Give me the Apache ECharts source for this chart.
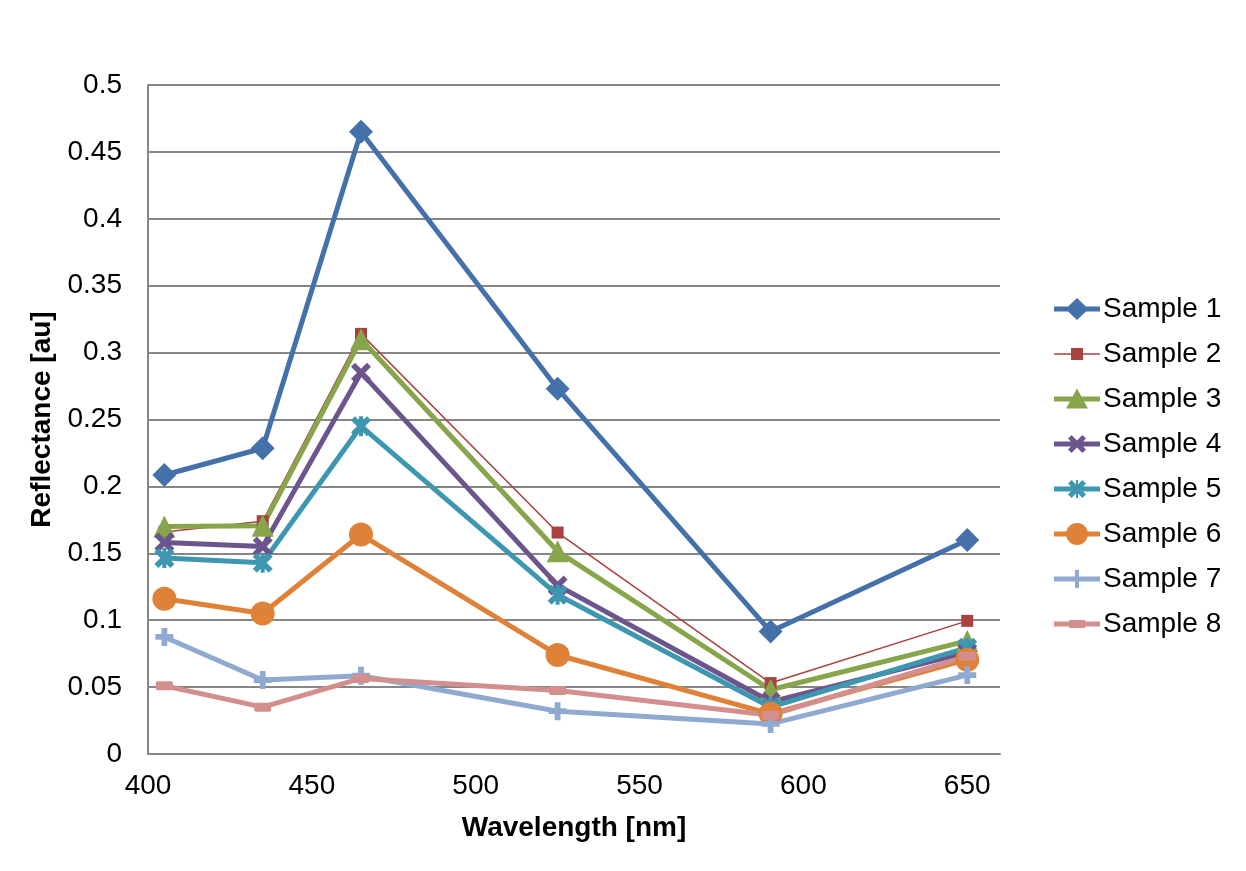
<!DOCTYPE html>
<html>
<head>
<meta charset="utf-8">
<script src="https://cdn.jsdelivr.net/npm/echarts@6/dist/echarts.min.js"></script>
<style>html,body{margin:0;padding:0;background:#fff}#c{width:1246px;height:871px}</style>
</head>
<body>
<div id="c"></div>
<script>
const wavelengths = [405, 435, 465, 525, 590, 650];
const sample1 = [0.2085, 0.2285, 0.465, 0.273, 0.0915, 0.160];
const sample2 = [0.166, 0.174, 0.314, 0.1655, 0.053, 0.0995];
const sample3 = [0.170, 0.1705, 0.310, 0.1515, 0.048, 0.0845];
const sample4 = [0.158, 0.155, 0.285, 0.126, 0.039, 0.076];
const sample5 = [0.1465, 0.143, 0.245, 0.119, 0.035, 0.0795];
const sample6 = [0.116, 0.105, 0.164, 0.074, 0.030, 0.0705];
const sample7 = [0.0875, 0.0553, 0.0585, 0.032, 0.0225, 0.059];
const sample8 = [0.051, 0.035, 0.0565, 0.0475, 0.029, 0.073];
const seriesNames = ['Sample 1','Sample 2','Sample 3','Sample 4','Sample 5','Sample 6','Sample 7','Sample 8'];
const seriesValues = [sample1, sample2, sample3, sample4, sample5, sample6, sample7, sample8];

const colors = ['#4571AA','#A9423E','#87A54B','#6C548D','#3D97B0','#DF8237','#8FA9D1','#D38F8E'];
const xMark = 'path://M0,2 L2,0 L5,3 L8,0 L10,2 L7,5 L10,8 L8,10 L5,7 L2,10 L0,8 L3,5 Z';
const starMark = 'path://M0,2 L2,0 L5,3 L8,0 L10,2 L7,5 L10,8 L8,10 L5,7 L2,10 L0,8 L3,5 Z M4,0 L6,0 L6,10 L4,10 Z';
const plusMark = 'path://M3.4,0 L6.6,0 L6.6,3.4 L10,3.4 L10,6.6 L6.6,6.6 L6.6,10 L3.4,10 L3.4,6.6 L0,6.6 L0,3.4 L3.4,3.4 Z';
const dashMark = 'path://M1,0 L9,0 Q10,0 10,1 L10,4 Q10,5 9,5 L1,5 Q0,5 0,4 L0,1 Q0,0 1,0 Z';
const symbols = ['diamond','rect','triangle',xMark,starMark,'circle',plusMark,dashMark];
const symbolSizes = [24, 12, 22, 20, 20, 24, 18, [17, 9]];
const lineWidths = [5, 1.5, 5, 5, 5, 5, 5, 5];

// legend icons: line + marker inside a 46x22 box (corner dots fix the box)
const box = 'M0,0 L0.01,0 L0,0.01 Z M46,22 L45.99,22 L46,21.99 Z ';
const thick = 'M0,8.5 L46,8.5 L46,13.5 L0,13.5 Z ';
const thin = 'M0,10.2 L46,10.2 L46,11.8 L0,11.8 Z ';
function xAt(ox, oy, s) {
  const p = [[0,2],[2,0],[5,3],[8,0],[10,2],[7,5],[10,8],[8,10],[5,7],[2,10],[0,8],[3,5]];
  return 'M' + p.map(q => (ox + q[0]*s/10).toFixed(2) + ',' + (oy + q[1]*s/10).toFixed(2)).join(' L') + ' Z ';
}
const legendIcons = [
  'path://' + box + thick + 'M11.5,11 L23,0 L34.5,11 L23,22 Z',
  'path://' + box + thin + 'M17,5 L29,5 L29,17 L17,17 Z',
  'path://' + box + thick + 'M23,0.5 L34,20.5 L12,20.5 Z',
  'path://' + box + thick + xAt(14, 2, 18),
  'path://' + box + thick + xAt(14, 2, 18) + 'M22,2 L24,2 L24,20 L22,20 Z',
  'path://' + box + thick + 'M12,11 A11,11 0 1,1 34,11 A11,11 0 1,1 12,11 Z',
  'path://' + box + thick + 'M21,2 L25,2 L25,9 L32,9 L32,13 L25,13 L25,20 L21,20 L21,13 L14,13 L14,9 L21,9 Z',
  'path://' + box + 'M0,8.5 L15,8.5 L15,7 L31,7 L31,8.5 L46,8.5 L46,13.5 L31,13.5 L31,15 L15,15 L15,13.5 L0,13.5 Z'
];

const chart = echarts.init(document.getElementById('c'), null, {renderer:'canvas'});
const font = 'Liberation Sans, Arial, sans-serif';
chart.setOption({
  animation: false,
  color: colors,
  grid: {left: 148, right: 246, top: 85, bottom: 117},
  legend: {
    orient: 'vertical', left: 1049, top: 290,
    itemWidth: 46, itemHeight: 22, itemGap: 17,
    itemStyle: {borderWidth: 0},
    textStyle: {fontFamily: font, fontSize: 28, color: '#000', padding: [0,0,0,-2]},
    data: seriesNames.map((n, i) => ({name: n, icon: legendIcons[i]}))
  },
  xAxis: {
    type: 'value', min: 400, max: 660, interval: 50,
    name: 'Wavelength [nm]', nameLocation: 'middle', nameGap: 60,
    nameTextStyle: {fontFamily: font, fontSize: 28, fontWeight: 'bold', color: '#000'},
    axisLine: {show: true, lineStyle: {color: '#868686', width: 2}},
    axisTick: {show: false},
    splitLine: {show: false},
    axisLabel: {fontFamily: font, fontSize: 28, color: '#000', margin: 18, showMaxLabel: false}
  },
  yAxis: {
    type: 'value', min: 0, max: 0.5, interval: 0.05,
    name: 'Reflectance [au]', nameLocation: 'middle', nameGap: 82, nameRotate: 90,
    nameTextStyle: {fontFamily: font, fontSize: 28, fontWeight: 'bold', color: '#000'},
    axisLine: {show: true, lineStyle: {color: '#868686', width: 2}},
    axisTick: {show: false},
    splitLine: {show: true, lineStyle: {color: '#868686', width: 2}},
    axisLabel: {fontFamily: font, fontSize: 28, color: '#000', margin: 26}
  },
  series: seriesNames.map((n, i) => ({
    name: n, type: 'line',
    data: wavelengths.map((w, j) => [w, seriesValues[i][j]]),
    symbol: symbols[i], symbolSize: symbolSizes[i], showAllSymbol: true,
    lineStyle: {width: lineWidths[i], color: colors[i]},
    itemStyle: {color: colors[i], borderWidth: 0}
  }))
});
</script>
</body>
</html>
